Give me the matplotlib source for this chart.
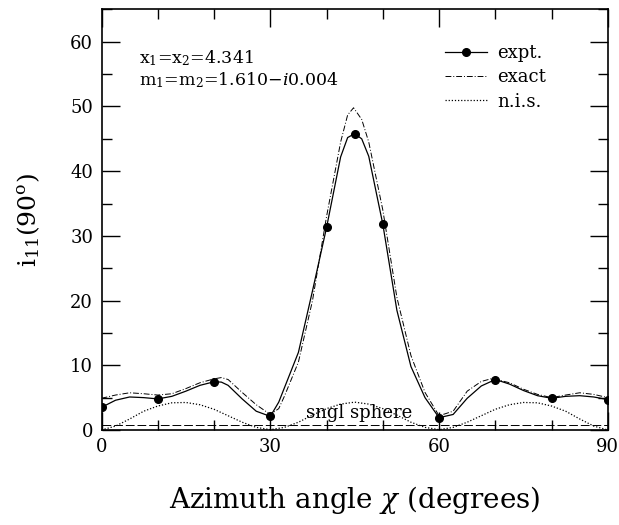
import numpy as np
import matplotlib
matplotlib.use("Agg")
import matplotlib.pyplot as plt
from matplotlib.ticker import MultipleLocator

# ---- data ----
# measured points
chi_expt = [0, 10, 20, 30, 40, 45, 50, 60, 70, 80, 90]
i11_expt = [3.5, 4.8, 7.45, 2.1, 31.3, 45.8, 31.8, 1.9, 7.8, 4.9, 4.7]

# smooth line through the measurements
chi_fit = [0, 2.5, 5, 7.5, 10, 12.5, 15, 17.5, 20, 21.3, 22.5, 25, 27.5, 30, 31.5,
           32.5, 35, 37.5, 40, 42.5, 43.75, 45, 46.25, 47.5, 50, 52.5, 55,
           57.5, 60, 62.5, 65, 67.5, 70, 72.5, 75, 77.5, 80, 82.5, 85, 87.5, 90]
i11_fit = [3.5, 4.6, 5.1, 5.0, 4.8, 5.2, 6.0, 6.9, 7.45, 7.4, 6.9, 4.8, 2.9, 2.1, 4.3,
           6.5, 12.0, 21.5, 31.3, 42.2, 45.2, 45.8, 45.0, 42.3, 31.8, 18.5, 9.8,
           5.0, 1.9, 2.4, 4.9, 6.8, 7.8, 7.1, 6.1, 5.3, 4.9, 5.2, 5.3, 5.1, 4.7]

# exact theory
chi_exact = [0, 2.5, 5, 7.5, 10, 12.5, 15, 17.5, 20, 21.3, 22.5, 25, 27.5, 30,
             31.5, 32.5, 35, 37.5, 40, 42.5, 43.75, 44.8, 46.25, 47.5, 50, 52.5,
             55, 57.5, 60, 62.5, 65, 67.5, 69.2, 70, 72.5, 75, 77.5, 80, 82.5, 85,
             87.5, 90]
i11_exact = [4.9, 5.4, 5.75, 5.6, 5.4, 5.6, 6.4, 7.3, 7.9, 8.1, 7.8, 5.8, 3.9, 2.4,
             3.3, 5.2, 10.5, 20.0, 33.0, 44.5, 48.7, 49.8, 48.0, 44.5, 34.0, 20.5,
             11.5, 5.8, 2.2, 2.9, 6.0, 7.5, 7.9, 7.85, 7.3, 6.3, 5.5, 5.0, 5.4, 5.75,
             5.5, 5.0]

# n.i.s. (non-interacting spheres)
chi_nis = [0, 2.5, 5, 7.5, 10, 12.5, 15, 17.5, 20, 22.5, 25, 27.5, 30, 32.5, 35,
           37.5, 40, 42.5, 45, 47.5, 50, 52.5, 55, 57.5, 60, 62.5, 65, 67.5, 70,
           72.5, 75, 77.5, 80, 82.5, 85, 87.5, 90]
i11_nis = [0.0, 0.6, 1.7, 2.9, 3.7, 4.2, 4.25, 3.9, 3.2, 2.2, 1.2, 0.4, 0.05, 0.4,
           1.2, 2.3, 3.3, 4.0, 4.3, 4.0, 3.3, 2.3, 1.2, 0.4, 0.05, 0.4, 1.2, 2.2,
           3.2, 3.9, 4.25, 4.2, 3.7, 2.9, 1.7, 0.6, 0.0]

# single sphere level
chi_sngl = [0, 90]
i11_sngl = [0.7, 0.7]

plt.rcParams['font.family'] = ['DejaVu Serif']
plt.rcParams['mathtext.fontset'] = 'dejavuserif'

fig = plt.figure(figsize=(6.19, 5.25), dpi=100)
ax = fig.add_axes([0.164, 0.181, 0.818, 0.801])

ax.plot(chi_fit, i11_fit, color='k', lw=0.9)
ax.plot(chi_expt, i11_expt, 'o', color='k', ms=5.5)
ax.plot([], [], '-o', color='k', lw=0.9, ms=5.5, label='expt.')
ax.plot(chi_exact, i11_exact, color='k', lw=0.7, ls=(0, (6, 2, 1, 2)), label='exact')
ax.plot(chi_nis, i11_nis, color='k', lw=0.9, ls=(0, (1, 1.5)), label='n.i.s.')
ax.plot(chi_sngl, i11_sngl, color='k', lw=0.7, ls=(0, (9, 3)))

ax.text(45.7, 2.6, 'sngl sphere', ha='center', va='center', fontsize=13)
ax.text(6.6, 57.4, 'x$_1$=x$_2$=4.341', ha='left', va='center', fontsize=12.5)
ax.text(6.6, 54.0, 'm$_1$=m$_2$=1.610$-i$0.004', ha='left', va='center', fontsize=12.5)

ax.legend(loc='upper right', bbox_to_anchor=(0.893, 0.935), frameon=False,
          fontsize=13, handlelength=2.3, handletextpad=0.6, labelspacing=0.35,
          borderaxespad=0)

ax.set_xlim(0, 90)
ax.set_ylim(0, 65)
ax.xaxis.set_major_locator(MultipleLocator(30))
ax.xaxis.set_minor_locator(MultipleLocator(10))
ax.yaxis.set_major_locator(MultipleLocator(10))
ax.yaxis.set_minor_locator(MultipleLocator(5))
ax.tick_params(which='both', direction='in', top=True, right=True, labelsize=13, width=1)
ax.tick_params(which='major', length=13, pad=6)
ax.tick_params(which='minor', length=7)
for s in ax.spines.values():
    s.set_linewidth(1.2)

ax.set_xlabel(r'Azimuth angle $\chi$ (degrees)', fontsize=20, labelpad=20)
ax.set_ylabel(r'i$_{11}$(90$^{\rm o}$)', fontsize=18, labelpad=20)

fig.savefig('out.png', dpi=100)
